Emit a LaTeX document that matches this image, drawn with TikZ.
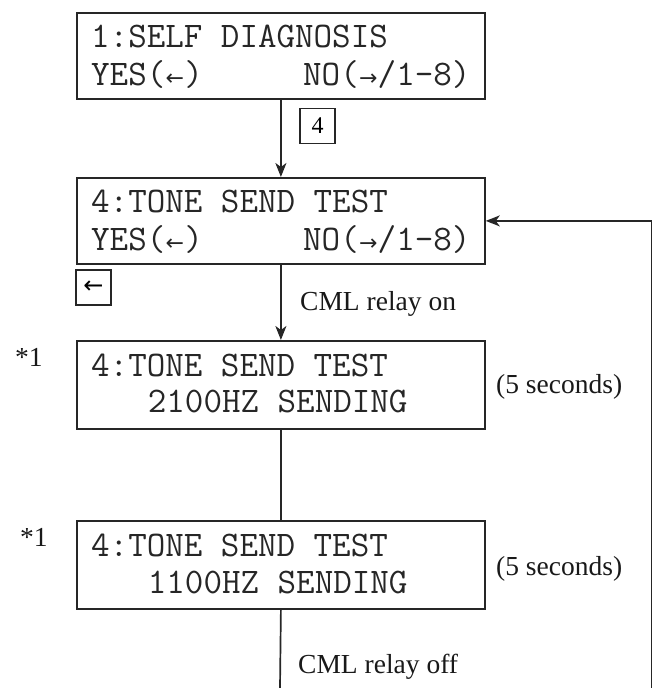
\documentclass[tikz,border=0pt]{standalone}
\usepackage{fontspec}
\setmainfont{Liberation Serif}
\newfontfamily\symfont{DejaVu Sans}
\usetikzlibrary{arrows.meta}
\newcommand{\lar}{\makebox[18.9pt]{\symfont\fontsize{22}{22}\selectfont ←}}
\newcommand{\rar}{\makebox[18.9pt]{\symfont\fontsize{22}{22}\selectfont →}}
\tikzset{
  lcdbox/.style={draw=black!85, line width=1.8pt, minimum width=408pt, inner sep=0pt, anchor=north west},
  lcdtext/.style={anchor=base west, inner sep=0pt, font=\ttfamily\fontsize{36pt}{36pt}\selectfont, text=black!85},
  note/.style={anchor=base west, inner sep=0pt, font=\fontsize{27.5pt}{28pt}\selectfont, text=black!90},
  keybox/.style={draw=black!85, line width=1.2pt, minimum width=35pt, minimum height=35pt, inner sep=0pt, font=\fontsize{24pt}{24pt}\selectfont},
  conn/.style={line width=1.7pt, draw=black!85},
  arr/.style={conn, -{Stealth[length=14pt,width=11pt,inset=4pt]}}
}
\begin{document}
\begin{tikzpicture}[x=1pt,y=-1pt]
\useasboundingbox (0,0) rectangle (652,688);
% boxes
\node[lcdbox, minimum height=86pt] (b1) at (76,12) {};
\node[lcdbox, minimum height=86pt] (b2) at (76,177) {};
\node[lcdbox, minimum height=88pt] (b3) at (76,340) {};
\node[lcdbox, minimum height=88pt] (b4) at (76,520) {};
% box texts
\node[lcdtext] (t1a) at (91,47) {1:SELF DIAGNOSIS};
\node[lcdtext] (t1b) at (91,85) {YES(\lar)};
\node[lcdtext] (t1c) at (303,85) {NO(\rar/1-8)};
\node[lcdtext] (t2a) at (91,212) {4:TONE SEND TEST};
\node[lcdtext] (t2b) at (91,250) {YES(\lar)};
\node[lcdtext] (t2c) at (303,250) {NO(\rar/1-8)};
\node[lcdtext] (t3a) at (91,376) {4:TONE SEND TEST};
\node[lcdtext] (t3b) at (147.7,412) {2100HZ SENDING};
\node[lcdtext] (t4a) at (91,556) {4:TONE SEND TEST};
\node[lcdtext] (t4b) at (147.7,593) {1100HZ SENDING};
% key boxes
\node[keybox] (k4) at (317.5,126) {4};
\node[keybox] (kl) at (93.5,287.5) {\symfont\fontsize{24}{24}\selectfont ←};
% notes
\node[note] (on) at (300,310) {CML relay on};
\node[note] (off) at (298,673) {CML relay off};
\node[note] (s1) at (496,393) {(5 seconds)};
\node[note] (s2) at (496,575) {(5 seconds)};
\node[note] (a1) at (15,366) {*1};
\node[note] (a2) at (20,546) {*1};
% connectors
\coordinate (bot) at (280,688);
\coordinate (fb) at (652,688);
\draw[arr] (b1.south) -- (b2.north);
\draw[arr] (b2.south) -- (b3.north);
\draw[conn] (b3.south) -- (b4.north);
\draw[conn] (b4.south) -- (bot);
\draw[arr] (fb) |- (b2.east);
\end{tikzpicture}
\end{document}
